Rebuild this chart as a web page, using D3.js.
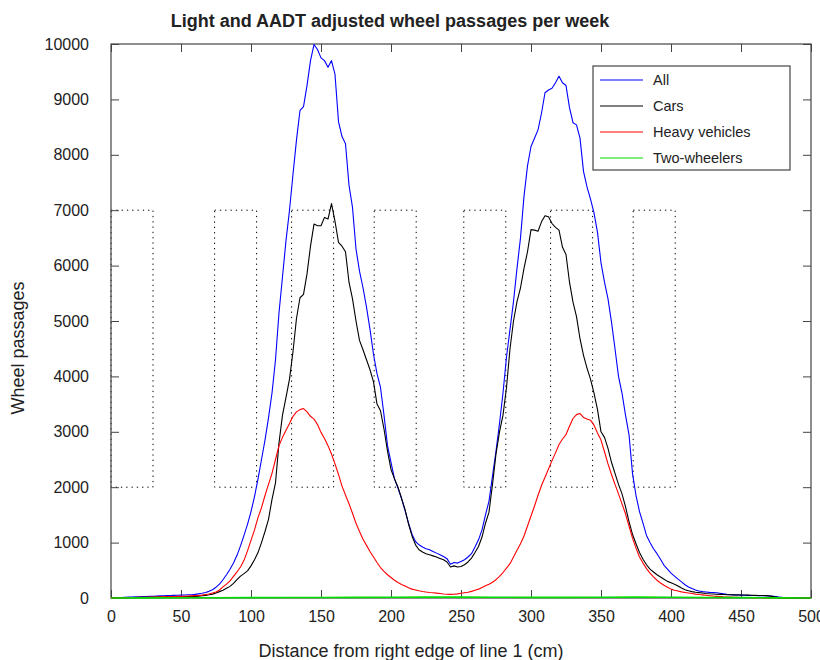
<!DOCTYPE html>
<html>
<head>
<meta charset="utf-8">
<script src="https://cdn.jsdelivr.net/npm/d3@7"></script>
<style>
  body { margin: 0; background: #fff; }
  text { font-family: "Liberation Sans", Arial, sans-serif; fill: #222; }
</style>
</head>
<body>
<div id="root"></div>
<script>
// measurements every 2.5 cm across the lane, 0..500 cm
const distances = d3.range(0, 500.001, 2.5);

const allVehicles = [
  5, 5, 8, 10, 12, 15, 18, 20, 22, 25, 28, 30, 32, 35, 38, 40, 42, 45, 48, 50,
  52, 55, 58, 60, 65, 75, 85, 100, 120, 150, 195, 250, 330, 420, 520, 630, 770, 940, 1130, 1330,
  1560, 1830, 2150, 2500, 2850, 3250, 3700, 4300, 5150, 5800, 6450, 7000, 7650, 8270, 8800, 8870, 9250, 9700, 9990, 9900,
  9750, 9700, 9580, 9700, 9450, 8600, 8330, 8200, 7450, 7050, 6300, 5900, 5600, 5250, 4850, 4400, 4050, 3800, 3300, 2750,
  2450, 2150, 1980, 1800, 1580, 1350, 1150, 1020, 960, 920, 890, 870, 840, 810, 780, 750, 710, 610, 640, 630,
  660, 690, 740, 800, 920, 1050, 1230, 1500, 1750, 2200, 2650, 3150, 3700, 4350, 4850, 5350, 5950, 6500, 7250, 7800,
  8150, 8300, 8450, 8750, 9120, 9170, 9200, 9300, 9420, 9300, 9250, 8850, 8580, 8540, 8300, 7700, 7420, 7200, 6950, 6600,
  6050, 5700, 5400, 4980, 4500, 4000, 3700, 3300, 2950, 2250, 1850, 1560, 1350, 1130, 1000, 890, 800, 700, 590, 520,
  450, 395, 340, 290, 240, 200, 170, 145, 125, 115, 108, 102, 98, 95, 85, 75, 65, 60, 56, 54,
  52, 50, 48, 46, 45, 43, 42, 40, 36, 30, 25, 15, 8, 4, 2, 0, 0, 0, 0, 0,
  0
];

const cars = [
  3, 4, 5, 6, 7, 8, 9, 10, 11, 12, 13, 14, 15, 16, 17, 18, 19, 20, 21, 22,
  23, 24, 25, 27, 30, 34, 40, 48, 58, 70, 90, 115, 140, 175, 210, 265, 330, 395, 440, 490,
  580, 690, 820, 1000, 1200, 1420, 1780, 2080, 2800, 3300, 3620, 3950, 4450, 5050, 5420, 5480, 5850, 6350, 6750, 6720,
  6720, 6870, 6840, 7120, 6800, 6420, 6350, 6250, 5700, 5400, 5000, 4650, 4480, 4300, 4120, 3900, 3500, 3380, 3050, 2650,
  2320, 2150, 2000, 1800, 1600, 1340, 1120, 960, 870, 830, 800, 780, 760, 740, 715, 690, 650, 560, 580, 560,
  570, 600, 650, 720, 820, 930, 1100, 1350, 1550, 2050, 2600, 3000, 3300, 3800, 4500, 5000, 5350, 5600, 5950, 6250,
  6650, 6640, 6620, 6790, 6900, 6880, 6760, 6690, 6640, 6330, 6200, 5700, 5340, 5080, 4680, 4380, 4150, 3950, 3700, 3400,
  3000, 2900, 2700, 2450, 2250, 2050, 1880, 1650, 1380, 1150, 980, 820, 700, 600, 520, 470, 420, 380, 340, 300,
  275, 250, 215, 180, 150, 130, 115, 105, 97, 90, 82, 76, 72, 68, 66, 63, 60, 58, 57, 56,
  55, 54, 52, 50, 48, 46, 44, 42, 38, 30, 15, 6, 2, 0, 0, 0, 0, 0, 0, 0,
  0
];

const heavyVehicles = [
  2, 3, 4, 5, 6, 7, 8, 10, 11, 12, 14, 15, 17, 18, 20, 22, 24, 26, 28, 29,
  30, 32, 35, 38, 42, 46, 52, 62, 72, 90, 110, 145, 200, 250, 310, 390, 470, 560, 680, 850,
  1040, 1230, 1450, 1630, 1850, 2050, 2250, 2500, 2750, 2900, 3030, 3150, 3280, 3360, 3400, 3420, 3360, 3280, 3230, 3130,
  2990, 2880, 2750, 2600, 2420, 2230, 2020, 1860, 1700, 1530, 1350, 1200, 1060, 950, 840, 740, 640, 550, 480, 420,
  370, 320, 280, 245, 215, 185, 160, 145, 130, 118, 108, 100, 95, 88, 80, 72, 67, 66, 68, 75,
  85, 95, 105, 120, 140, 160, 190, 220, 250, 285, 330, 390, 460, 540, 620, 740, 860, 980, 1120, 1300,
  1480, 1660, 1850, 2030, 2180, 2330, 2480, 2620, 2770, 2870, 2950, 3100, 3240, 3310, 3330, 3260, 3230, 3210, 3120, 2980,
  2850, 2640, 2420, 2230, 2050, 1880, 1700, 1520, 1300, 1080, 900, 740, 630, 530, 450, 380, 320, 270, 230, 195,
  160, 140, 125, 110, 100, 90, 80, 70, 62, 56, 50, 42, 35, 30, 25, 20, 18, 16, 14, 12,
  10, 9, 8, 7, 6, 5, 4, 3, 2, 1, 1, 0, 0, 0, 0, 0, 0, 0, 0, 0,
  0
];

// two-wheelers are sparse, read every 25 cm
const twoWheelerDist = [0, 25, 50, 75, 100, 125, 150, 175, 200, 225, 250, 275, 300, 325, 350, 375, 400, 425, 450, 475, 500];
const twoWheelers = [0, 2, 4, 5, 6, 8, 10, 12, 14, 15, 15, 14, 12, 12, 14, 15, 14, 10, 6, 3, 0];

// wheel track zones (cm), drawn between 2000 and 7000
const trackStart = [0, 74, 129, 188, 252, 314, 373];
const trackEnd = [30, 104, 159, 218, 282, 344, 403];
const trackLow = 2000;
const trackHigh = 7000;

const xTicks = [0, 50, 100, 150, 200, 250, 300, 350, 400, 450, 500];
const yTicks = [0, 1000, 2000, 3000, 4000, 5000, 6000, 7000, 8000, 9000, 10000];

const seriesNames = ['All', 'Cars', 'Heavy vehicles', 'Two-wheelers'];
const seriesColors = ['#0000ff', '#000000', '#ff0000', '#00dd00'];

const width = 820, height = 660;
const plotLeft = 111, plotRight = 811, plotTop = 44, plotBottom = 598;

const svg = d3.select('#root')
  .append('svg')
  .attr('width', width)
  .attr('height', height);

const x = d3.scaleLinear().domain([0, 500]).range([plotLeft, plotRight]);
const y = d3.scaleLinear().domain([0, 10000]).range([plotBottom, plotTop]);

// dotted wheel track boxes
svg.append('g')
  .selectAll('rect')
  .data(trackStart)
  .enter()
  .append('rect')
  .attr('x', (d) => x(d))
  .attr('y', y(trackHigh))
  .attr('width', (d, i) => x(trackEnd[i]) - x(d))
  .attr('height', y(trackLow) - y(trackHigh))
  .attr('fill', 'none')
  .attr('stroke', '#000')
  .attr('stroke-width', 1)
  .attr('stroke-dasharray', '1.3,4');

// axes, matlab style: ticks inside on all four sides
const axisColor = '#444';
const styleAxis = (g) => {
  g.select('.domain').remove();
  g.selectAll('.tick line').attr('stroke', axisColor);
  g.selectAll('.tick text')
    .style('font-size', '16px')
    .style('font-family', '"Liberation Sans", Arial, sans-serif')
    .attr('fill', '#222');
};

svg.append('g')
  .attr('transform', `translate(0,${plotBottom})`)
  .call(d3.axisBottom(x).tickValues(xTicks).tickSize(-8).tickPadding(13).tickFormat(d3.format('d')))
  .call(styleAxis);
svg.append('g')
  .attr('transform', `translate(0,${plotTop})`)
  .call(d3.axisTop(x).tickValues(xTicks).tickSize(-8).tickFormat(''))
  .call(styleAxis);
svg.append('g')
  .attr('transform', `translate(${plotLeft},0)`)
  .call(d3.axisLeft(y).tickValues(yTicks).tickSize(-8).tickPadding(22).tickFormat(d3.format('d')))
  .call(styleAxis);
svg.append('g')
  .attr('transform', `translate(${plotRight},0)`)
  .call(d3.axisRight(y).tickValues(yTicks).tickSize(-8).tickFormat(''))
  .call(styleAxis);

svg.append('rect')
  .attr('x', plotLeft)
  .attr('y', plotTop)
  .attr('width', plotRight - plotLeft)
  .attr('height', plotBottom - plotTop)
  .attr('fill', 'none')
  .attr('stroke', axisColor)
  .attr('stroke-width', 1.2);

// curves
const line = d3.line()
  .x((d) => x(d[0]))
  .y((d) => y(d[1]));

const series = [
  {dist: distances, vals: allVehicles},
  {dist: distances, vals: cars},
  {dist: distances, vals: heavyVehicles},
  {dist: twoWheelerDist, vals: twoWheelers},
];

series.forEach((s, i) => {
  svg.append('path')
    .datum(s.dist.map((d, j) => [d, s.vals[j]]))
    .attr('fill', 'none')
    .attr('stroke', seriesColors[i])
    .attr('stroke-width', i === 3 ? 1.6 : 1.1)
    .attr('stroke-linejoin', 'round')
    .attr('d', line);
});

// legend
const legend = svg.append('g').attr('transform', 'translate(593,66)');
legend.append('rect')
  .attr('width', 197)
  .attr('height', 104)
  .attr('fill', '#fff')
  .attr('stroke', axisColor)
  .attr('stroke-width', 1.2);
seriesNames.forEach((name, i) => {
  const ly = 14 + i * 26;
  legend.append('line')
    .attr('x1', 7).attr('x2', 50)
    .attr('y1', ly).attr('y2', ly)
    .attr('stroke', seriesColors[i])
    .attr('stroke-width', 1.2);
  legend.append('text')
    .attr('x', 60)
    .attr('y', ly + 5)
    .style('font-size', '14.5px')
    .text(name);
});

// titles
svg.append('text')
  .attr('x', 390)
  .attr('y', 27)
  .attr('text-anchor', 'middle')
  .style('font-size', '18px')
  .style('font-weight', 'bold')
  .attr('fill', '#000')
  .text('Light and AADT adjusted wheel passages per week');

svg.append('text')
  .attr('x', 411)
  .attr('y', 657)
  .attr('text-anchor', 'middle')
  .style('font-size', '18px')
  .text('Distance from right edge of line 1 (cm)');

svg.append('text')
  .attr('transform', 'translate(24,348) rotate(-90)')
  .attr('text-anchor', 'middle')
  .style('font-size', '18px')
  .text('Wheel passages');
</script>
</body>
</html>
